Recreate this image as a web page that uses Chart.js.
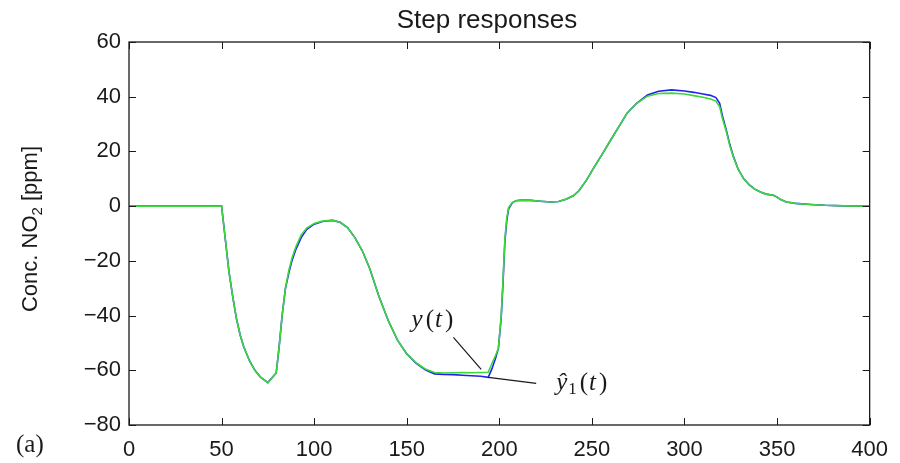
<!DOCTYPE html>
<html lang="en">
<head>
    <meta charset="UTF-8">
    <title>Step responses</title>
    <script src="https://cdn.jsdelivr.net/npm/chart.js@4"></script>
    <style>
        html, body { margin: 0; padding: 0; background: #fff; }
        #wrap { width: 900px; height: 463px; }
    </style>
</head>
<body>
    <div id="wrap"><canvas id="stepChart" width="900" height="463"></canvas></div>
    <script>
        // time axis [s], shared by both responses
        const timeSec = [0, 50, 52, 54, 56, 58, 60, 62, 65, 68, 71, 75, 79.5, 81, 82.7, 84.5, 86.3, 88, 90, 93, 96, 100,
            105, 110, 114, 118, 122, 126, 130, 135, 140, 145, 150, 155, 160, 165, 170, 175, 180, 185, 190, 194, 196, 198,
            199.5, 201, 202, 203, 204, 205, 207, 209, 212, 217, 222, 228, 232, 236, 240, 243, 247, 251, 256, 260, 265,
            269, 274, 280, 286, 293, 300, 305, 310, 314, 317, 319, 320.5, 322.5, 324.5, 326.5, 329, 332, 335, 338, 341,
            344, 348, 350, 352, 355, 360, 368, 376, 386, 400];

        // measured response y(t) [ppm]
        const measured = [0, 0, -12, -24, -33, -41, -47, -51.5, -56.4, -60, -62.5, -64.5, -61, -52, -40, -30, -23.5, -19,
            -15, -10.5, -8, -6.3, -5.4, -5.2, -5.9, -7.8, -11.5, -16.3, -22.8, -33, -41.8, -49, -54, -57.2, -59.5, -60.8,
            -61, -60.9, -60.8, -60.9, -60.8, -60.7, -57.5, -54.5, -52, -40, -27, -12, -4.5, -0.5, 1.3, 2, 2.2, 2.1, 1.8,
            1.5, 1.7, 2.5, 3.8, 5.6, 9.4, 14, 19.5, 24, 29.5, 34, 37.5, 40.2, 41.2, 41.3, 41, 40.4, 39.8, 39.2, 38.4,
            36.3, 32, 27.5, 22, 17.8, 13.5, 10, 7.8, 6.2, 5.2, 4.4, 4.0, 3.3, 2.4, 1.5, 1.0, 0.6, 0.3, 0.1, 0];

        // model output y^_1(t) [ppm]
        const model = [0, 0, -12, -24, -33, -41, -47, -51.5, -56.4, -60, -62.5, -64.5, -61, -52, -40, -30, -24.5, -20,
            -16, -11.5, -8.5, -6.6, -5.5, -5.2, -5.9, -7.8, -11.5, -16.3, -22.8, -33, -41.8, -49, -54, -57.4, -59.8, -61.3,
            -61.5, -61.6, -61.8, -62, -62.2, -62.6, -59.5, -55.5, -52, -41, -28, -13, -5.5, -1, 1.2, 2, 2.2, 2.1, 1.8,
            1.5, 1.7, 2.5, 3.8, 5.6, 9.4, 14, 19.5, 24, 29.5, 34, 37.5, 40.6, 42, 42.5, 42.1, 41.6, 41, 40.5, 39.7,
            37.6, 33, 28, 22.5, 18, 13.5, 10, 7.8, 6.2, 5.2, 4.4, 4.0, 3.3, 2.4, 1.5, 1.0, 0.6, 0.3, 0.1, 0];

        const xTicks = { min: 0, max: 400, step: 50 };
        const yTicks = { min: -80, max: 60, step: 20 };

        const sans = "'Liberation Sans', Arial, Helvetica, sans-serif";
        const serif = "'Liberation Serif', 'Times New Roman', serif";
        const ink = '#1a1a1a';

        function toPoints(xs, ys) {
            return xs.map((t, i) => ({ x: t, y: ys[i] }));
        }

        // draw a run of text pieces left to right: [text, italic, size, dy, gap]
        function drawRich(ctx, pieces, x, y, family) {
            let cx = x;
            for (const [txt, italic, size, dy, gap] of pieces) {
                ctx.font = (italic ? 'italic ' : '') + size + 'px ' + family;
                ctx.fillText(txt, cx, y + dy);
                cx += ctx.measureText(txt).width + (gap || 0);
            }
            return cx - x;
        }

        // box with inward ticks on all four sides
        const framePlugin = {
            id: 'frame',
            afterDraw(chart) {
                const { ctx, chartArea: a, scales: { x, y } } = chart;
                const tl = 7;
                ctx.save();
                ctx.strokeStyle = ink;
                ctx.lineWidth = 1.3;
                ctx.strokeRect(a.left, a.top, a.right - a.left, a.bottom - a.top);
                ctx.beginPath();
                x.ticks.forEach(t => {
                    const px = Math.round(x.getPixelForValue(t.value)) + 0.5;
                    ctx.moveTo(px, a.bottom); ctx.lineTo(px, a.bottom - tl);
                    ctx.moveTo(px, a.top); ctx.lineTo(px, a.top + tl);
                });
                y.ticks.forEach(t => {
                    const py = Math.round(y.getPixelForValue(t.value)) + 0.5;
                    ctx.moveTo(a.left, py); ctx.lineTo(a.left + tl, py);
                    ctx.moveTo(a.right, py); ctx.lineTo(a.right - tl, py);
                });
                ctx.lineWidth = 1;
                ctx.stroke();

                // title
                ctx.fillStyle = ink;
                ctx.textAlign = 'center';
                ctx.textBaseline = 'alphabetic';
                ctx.font = '26px ' + sans;
                ctx.fillText('Step responses', 487, 28);

                // y axis label with subscript, rotated
                ctx.textAlign = 'left';
                const pieces = [['Conc. NO', false, 22, 0], ['2', false, 15, 5], [' [ppm]', false, 22, 0]];
                ctx.save();
                ctx.translate(37, 229);
                ctx.rotate(-Math.PI / 2);
                let w = 0;
                for (const [txt, , size] of pieces) {
                    ctx.font = size + 'px ' + sans;
                    w += ctx.measureText(txt).width;
                }
                drawRich(ctx, pieces, -w / 2, 0, sans);
                ctx.restore();

                // panel tag
                ctx.font = '25px ' + serif;
                ctx.fillText('(a)', 16, 452);
                ctx.restore();
            }
        };

        // curve labels with leader lines, anchored in data units
        const labelPlugin = {
            id: 'curveLabels',
            afterDatasetsDraw(chart) {
                const { ctx, scales: { x, y } } = chart;
                const P = (t, v) => [x.getPixelForValue(t), y.getPixelForValue(v)];
                ctx.save();
                ctx.strokeStyle = ink;
                ctx.lineWidth = 1.2;
                ctx.beginPath();
                let p = P(175.2, -48.0); ctx.moveTo(p[0], p[1]);
                p = P(190.2, -59.7); ctx.lineTo(p[0], p[1]);
                p = P(194.1, -62.6); ctx.moveTo(p[0], p[1]);
                p = P(219.9, -64.8); ctx.lineTo(p[0], p[1]);
                ctx.stroke();

                ctx.fillStyle = ink;
                ctx.textAlign = 'left';
                ctx.textBaseline = 'alphabetic';
                p = P(152.6, -44.3);
                drawRich(ctx, [['y', true, 25, 0, 3], ['(', false, 25, 0, 1], ['t', true, 25, 0, 3], [')', false, 25, 0]], p[0], p[1], serif);
                p = P(230.7, -67.3);
                drawRich(ctx, [['\u0177', true, 25, 0, 1], ['1', false, 17, 4, 3], ['(', false, 25, 0, 1], ['t', true, 25, 0, 3], [')', false, 25, 0]], p[0], p[1], serif);
                ctx.restore();
            }
        };

        const ctx = document.getElementById('stepChart').getContext('2d');
        new Chart(ctx, {
            type: 'line',
            data: {
                datasets: [
                    {
                        label: 'y(t)',
                        data: toPoints(timeSec, measured),
                        borderColor: '#3ad83a',
                        borderWidth: 1.6,
                        pointRadius: 0,
                        tension: 0,
                        order: 0
                    },
                    {
                        label: 'ŷ1(t)',
                        data: toPoints(timeSec, model),
                        borderColor: '#2222ee',
                        borderWidth: 1.6,
                        pointRadius: 0,
                        tension: 0,
                        order: 1
                    }
                ]
            },
            options: {
                responsive: false,
                animation: false,
                layout: { padding: { top: 42, right: 27, left: 0, bottom: 0 } },
                plugins: {
                    legend: { display: false },
                    tooltip: { enabled: false }
                },
                scales: {
                    x: {
                        type: 'linear',
                        min: xTicks.min,
                        max: xTicks.max,
                        grid: { display: false, drawTicks: false },
                        border: { display: false },
                        ticks: {
                            stepSize: xTicks.step,
                            padding: 12,
                            maxRotation: 0,
                            color: ink,
                            font: { family: sans, size: 22 }
                        },
                        afterFit(scale) { scale.height = 38; }
                    },
                    y: {
                        type: 'linear',
                        min: yTicks.min,
                        max: yTicks.max,
                        grid: { display: false, drawTicks: false },
                        border: { display: false },
                        ticks: {
                            stepSize: yTicks.step,
                            padding: 8,
                            color: ink,
                            font: { family: sans, size: 22 },
                            callback: v => (v < 0 ? '\u2212' + Math.abs(v) : String(v))
                        },
                        afterFit(scale) { scale.width = 129; }
                    }
                }
            },
            plugins: [framePlugin, labelPlugin]
        });
    </script>
</body>
</html>
